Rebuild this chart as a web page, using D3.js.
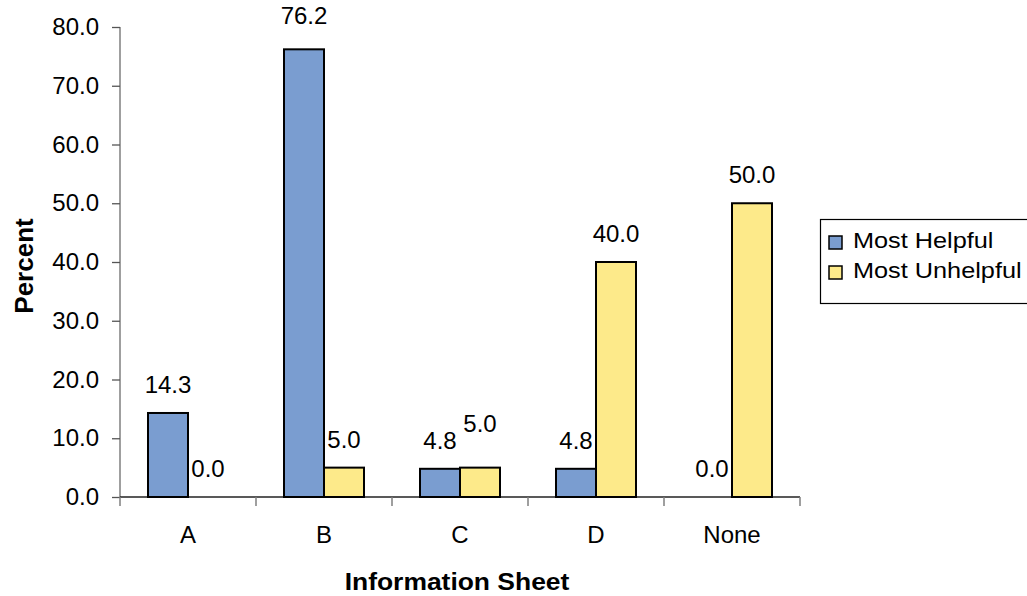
<!DOCTYPE html>
<html>
<head>
<meta charset="utf-8">
<script src="https://cdn.jsdelivr.net/npm/d3@7"></script>
<style>
  html, body { margin: 0; padding: 0; background: #fff; }
  svg { display: block; font-family: "Liberation Sans", Arial, sans-serif; }
</style>
</head>
<body>
<svg id="chart" width="1027" height="596"></svg>
<script>
// Share of respondents naming each information sheet
const categories = ["A", "B", "C", "D", "None"];
const seriesNames = ["Most Helpful", "Most Unhelpful"];
const mostHelpful = [14.3, 76.2, 4.8, 4.8, 0.0];
const mostUnhelpful = [0.0, 5.0, 5.0, 40.0, 50.0];
const yTicks = [0, 10, 20, 30, 40, 50, 60, 70, 80];
const seriesColors = ["#7A9DD0", "#FDEA8A"];

const values = [mostHelpful, mostUnhelpful];

const svg = d3.select("#chart");
const plot = { left: 120, right: 800, top: 27, bottom: 497 };

const x = d3.scaleBand()
  .domain(categories)
  .range([plot.left, plot.right])
  .paddingInner(56 / 136)
  .paddingOuter(28 / 136);

const xs = d3.scaleBand()
  .domain(seriesNames)
  .range([0, x.bandwidth()]);

const y = d3.scaleLinear()
  .domain([0, 80])
  .range([plot.bottom, plot.top]);

// Category tick marks sit on the band boundaries
const step = x.step();
const boundaries = d3.range(categories.length + 1).map(i => plot.left + i * step);

// Y axis
const yAxis = svg.append("g")
  .attr("transform", `translate(${plot.left},0)`)
  .call(d3.axisLeft(y).tickValues(yTicks).tickFormat(d3.format(".1f")).tickSize(8).tickPadding(13));
yAxis.select(".domain").attr("stroke", "#7f7f7f").attr("stroke-width", 1.5)
  .attr("d", `M0,${plot.top}V${plot.bottom}`);
yAxis.selectAll(".tick line").attr("stroke", "#555").attr("stroke-width", 1.3);
yAxis.selectAll(".tick text")
  .attr("font-size", 24).attr("fill", "#000")
  .attr("font-family", "Liberation Sans, Arial, sans-serif");

// X axis baseline and boundary ticks
svg.append("line")
  .attr("x1", plot.left).attr("x2", plot.right)
  .attr("y1", y(0)).attr("y2", y(0))
  .attr("stroke", "#222").attr("stroke-width", 1.5);
svg.append("g").selectAll("line")
  .data(boundaries)
  .join("line")
  .attr("x1", d => d).attr("x2", d => d)
  .attr("y1", y(0)).attr("y2", y(0) + 9)
  .attr("stroke", "#7f7f7f").attr("stroke-width", 1.5);

// Category labels
svg.append("g").selectAll("text")
  .data(categories)
  .join("text")
  .attr("x", d => x(d) + x.bandwidth() / 2)
  .attr("y", 543)
  .attr("text-anchor", "middle")
  .attr("font-size", 24)
  .text(d => d);

// Bars
const barData = [];
categories.forEach((c, ci) => {
  seriesNames.forEach((s, si) => {
    barData.push({ cat: c, series: s, si, value: values[si][ci] });
  });
});

svg.append("g").selectAll("rect")
  .data(barData.filter(d => d.value > 0))
  .join("rect")
  .attr("x", d => x(d.cat) + xs(d.series))
  .attr("y", d => y(d.value))
  .attr("width", xs.bandwidth())
  .attr("height", d => y(0) - y(d.value))
  .attr("fill", d => seriesColors[d.si])
  .attr("stroke", "#000")
  .attr("stroke-width", 2);

// Value labels; raise a label when its neighbour in the group would collide,
// and give the tallest bar's label a little extra headroom
const labelGap = 20;
const labelHeight = 17;
const tallestLift = 5;
const maxValue = d3.max(barData, d => d.value);
const labels = barData.map(d => ({
  ...d,
  ly: y(d.value) - labelGap - (d.value === maxValue ? tallestLift : 0)
}));
categories.forEach(c => {
  const pair = labels.filter(l => l.cat === c);
  if (Math.abs(pair[0].ly - pair[1].ly) < labelHeight) {
    const hi = pair[0].value >= pair[1].value ? pair[0] : pair[1];
    const lo = hi === pair[0] ? pair[1] : pair[0];
    hi.ly = lo.ly - labelHeight;
  }
});

svg.append("g").selectAll("text")
  .data(labels)
  .join("text")
  .attr("x", d => x(d.cat) + xs(d.series) + xs.bandwidth() / 2)
  .attr("y", d => d.ly)
  .attr("text-anchor", "middle")
  .attr("font-size", 24)
  .text(d => d3.format(".1f")(d.value));

// Axis titles
svg.append("text")
  .attr("transform", "translate(457,590) scale(1.15,1)")
  .attr("text-anchor", "middle")
  .attr("font-size", 23).attr("font-weight", "bold")
  .text("Information Sheet");

svg.append("text")
  .attr("transform", "translate(33,266) rotate(-90)")
  .attr("text-anchor", "middle")
  .attr("font-size", 26).attr("font-weight", "bold")
  .text("Percent");

// Legend
const legend = svg.append("g");
legend.append("rect")
  .attr("x", 820.5).attr("y", 219.5)
  .attr("width", 220).attr("height", 84)
  .attr("fill", "#fff").attr("stroke", "#000").attr("stroke-width", 1.2);
const items = legend.selectAll("g.item")
  .data(seriesNames)
  .join("g")
  .attr("class", "item")
  .attr("transform", (d, i) => `translate(829,${236 + i * 30})`);
items.append("rect")
  .attr("width", 13).attr("height", 13)
  .attr("fill", (d, i) => seriesColors[i])
  .attr("stroke", "#000").attr("stroke-width", 1.5);
items.append("text")
  .attr("transform", "translate(24,12) scale(1.15,1)")
  .attr("font-size", 22)
  .text(d => d);
</script>
</body>
</html>
